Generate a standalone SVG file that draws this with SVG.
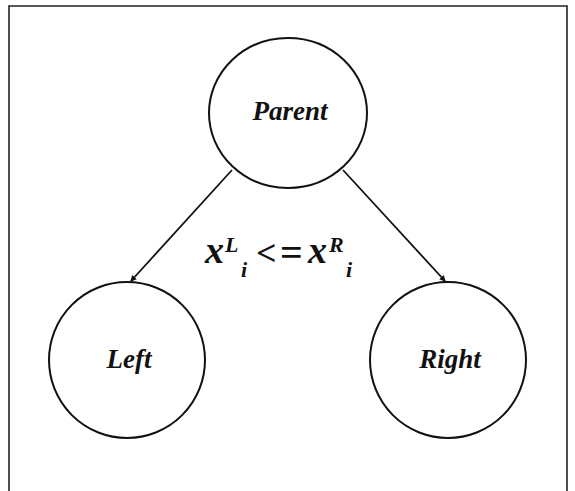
<svg xmlns="http://www.w3.org/2000/svg" width="575" height="491" viewBox="0 0 575 491">
<style>
.node{fill:#fff;stroke:#111;stroke-width:2}
.lbl{font-family:"Liberation Serif","Times New Roman",serif;font-weight:bold;font-style:italic;font-size:27px;fill:#111;text-anchor:middle}
.edge{stroke:#111;stroke-width:1.8;fill:none}
.frm{fill:none;stroke:#222;stroke-width:1.6}
.f{font-family:"Liberation Serif","Times New Roman",serif;font-weight:bold;font-style:italic;fill:#111}
</style>
<defs>
<marker id="ah" viewBox="0 0 6 6" refX="5" refY="3" markerWidth="3.5" markerHeight="3.5" orient="auto" markerUnits="strokeWidth">
<path d="M0,0 L6,3 L0,6 z" fill="#111"/>
</marker>
</defs>
<rect width="575" height="491" fill="#fff"/>
<path class="frm" d="M9,495 V6 H567 V495"/>
<g id="connectors">
<line class="edge" x1="232" y1="170" x2="131" y2="281" marker-end="url(#ah)"/>
<line class="edge" x1="343" y1="170" x2="445" y2="281" marker-end="url(#ah)"/>
</g>
<g id="parent">
<ellipse class="node" cx="288" cy="113" rx="79" ry="75"/>
<text class="lbl" x="290" y="120">Parent</text>
</g>
<g id="left">
<circle class="node" cx="127" cy="360" r="78"/>
<text class="lbl" x="129" y="368">Left</text>
</g>
<g id="right">
<circle class="node" cx="448" cy="360" r="78"/>
<text class="lbl" x="450" y="368">Right</text>
</g>
<g id="condition" class="f">
<text x="205" y="263" font-size="38">x</text>
<text x="225" y="252" font-size="22">L</text>
<text x="241" y="277" font-size="22">i</text>
<text x="256" y="265" font-size="36" font-style="normal">&lt;</text>
<text x="280" y="266" font-size="40" font-style="normal">=</text>
<text x="308" y="263" font-size="38">x</text>
<text x="329" y="252" font-size="22">R</text>
<text x="346" y="277" font-size="22">i</text>
</g>
</svg>
